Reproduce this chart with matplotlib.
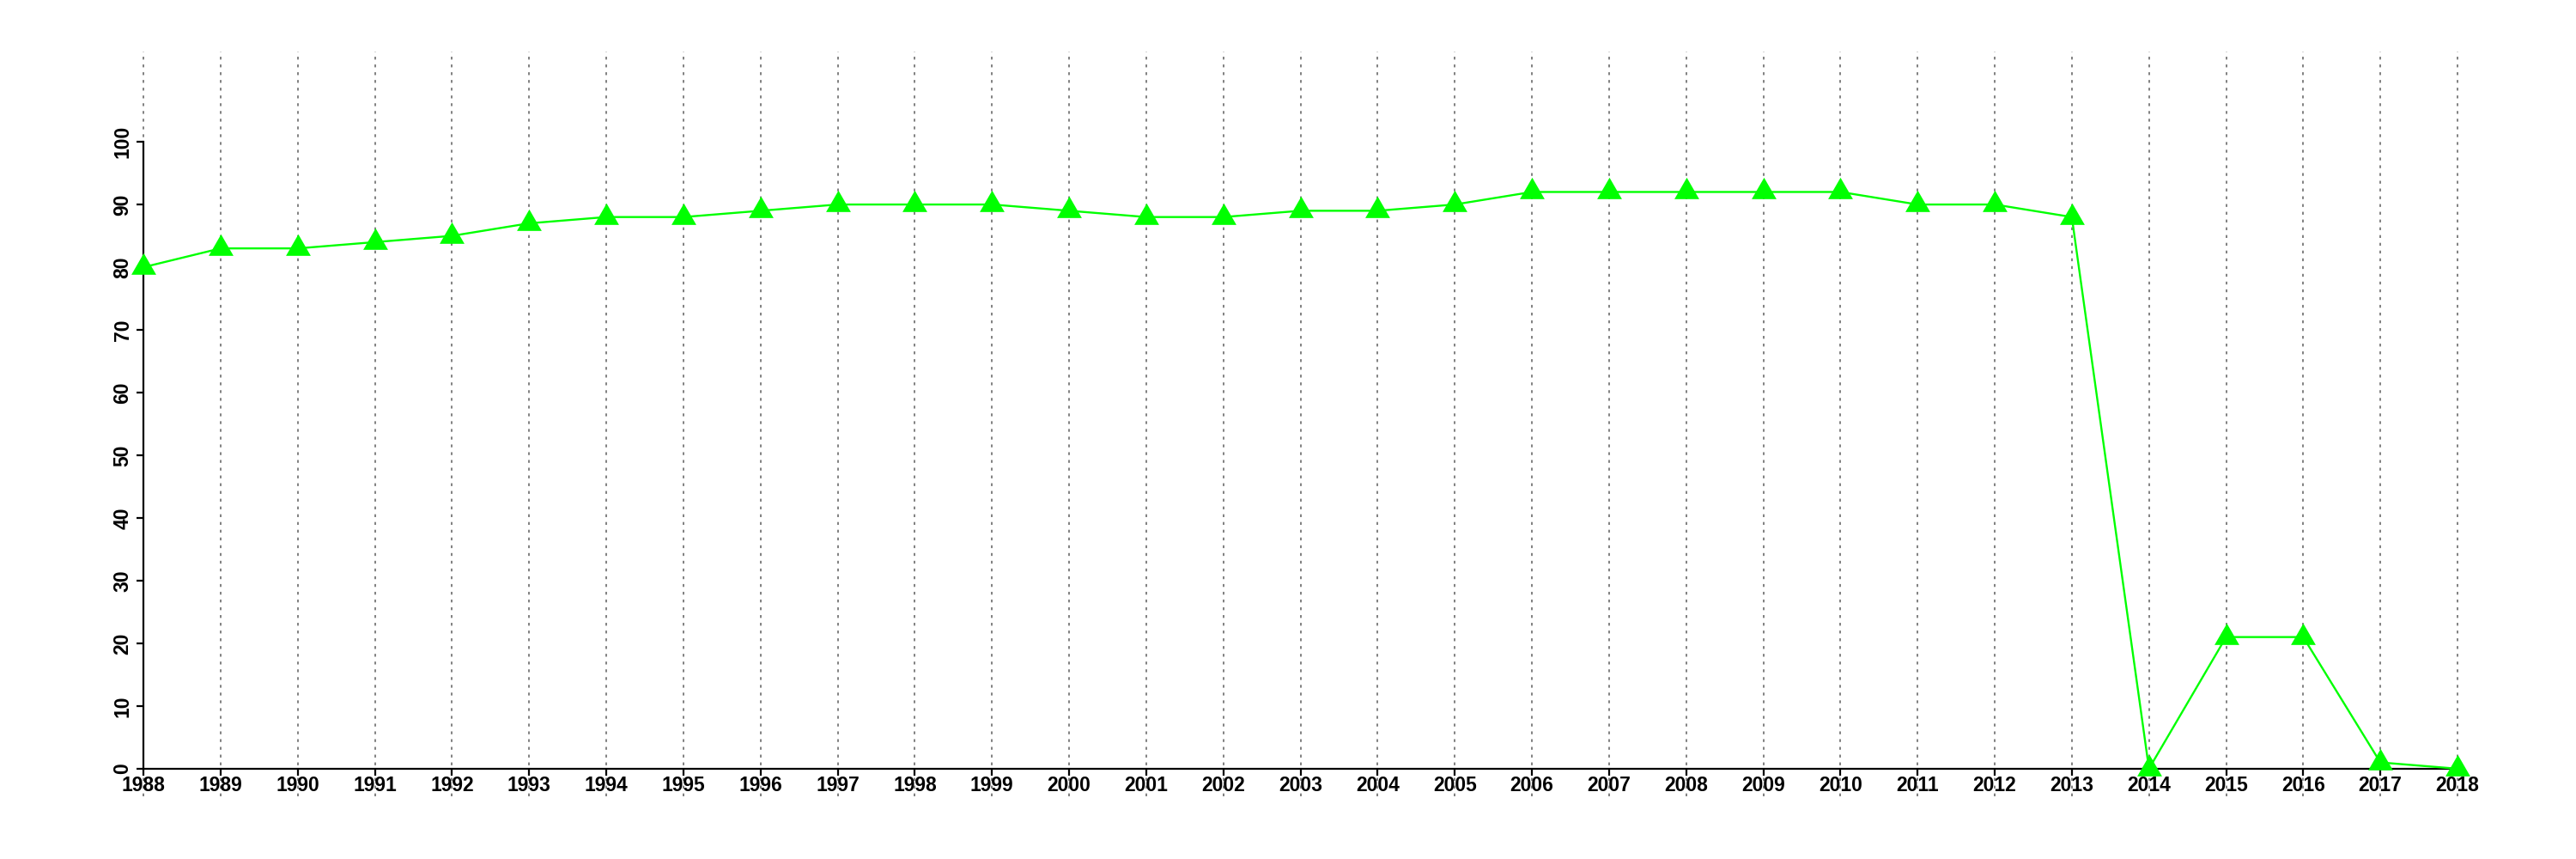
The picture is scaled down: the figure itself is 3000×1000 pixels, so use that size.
import matplotlib
matplotlib.use("Agg")
import matplotlib.pyplot as plt

years = [1988, 1989, 1990, 1991, 1992, 1993, 1994, 1995, 1996, 1997,
         1998, 1999, 2000, 2001, 2002, 2003, 2004, 2005, 2006, 2007,
         2008, 2009, 2010, 2011, 2012, 2013, 2014, 2015, 2016, 2017, 2018]
values = [80, 83, 83, 84, 85, 87, 88, 88, 89, 90,
          90, 90, 89, 88, 88, 89, 89, 90, 92, 92,
          92, 92, 92, 90, 90, 88, 0, 21, 21, 1, 0]
y_ticks = [0, 10, 20, 30, 40, 50, 60, 70, 80, 90, 100]

plt.rcParams['font.family'] = ['Liberation Sans', 'DejaVu Sans']
plt.rcParams['font.weight'] = 'bold'
plt.rcParams['lines.scale_dashes'] = False

fig = plt.figure(figsize=(30, 10), dpi=100)
ax = fig.add_axes([0.0557, 0.073, 0.8983, 0.867])
ax.set_xlim(1988, 2018)
ax.set_ylim(-4.4, 114.4)

for yr in years:
    ax.axvline(yr, color='#808080', linewidth=1.4, linestyle=(0, (2.4, 4.1)),
               zorder=1, clip_on=False)

tri = [(-1, -0.577), (1, -0.577), (0, 1.155)]
ax.plot(years, values, color='#00FF00', linewidth=1.7, marker=tri,
        markersize=24, markerfacecolor='#00FF00', markeredgewidth=0,
        clip_on=False, zorder=3)

for side in ['top', 'right']:
    ax.spines[side].set_visible(False)
ax.spines['left'].set_bounds(0, 100)
ax.spines['left'].set_linewidth(1.6)
ax.spines['bottom'].set_position(('data', 0))
ax.spines['bottom'].set_bounds(1988, 2018)
ax.spines['bottom'].set_linewidth(1.6)

ax.set_xticks(years)
ax.set_xticklabels([str(y) for y in years])
ax.set_yticks(y_ticks)
ax.set_yticklabels([str(v) for v in y_ticks], rotation=90, va='center')
ax.tick_params(axis='both', direction='out', length=6, width=1.6,
               labelsize=16.5, colors='black')
ax.tick_params(axis='x', pad=0)
ax.tick_params(axis='y', pad=3)

fig.savefig('out.png', dpi=100)
